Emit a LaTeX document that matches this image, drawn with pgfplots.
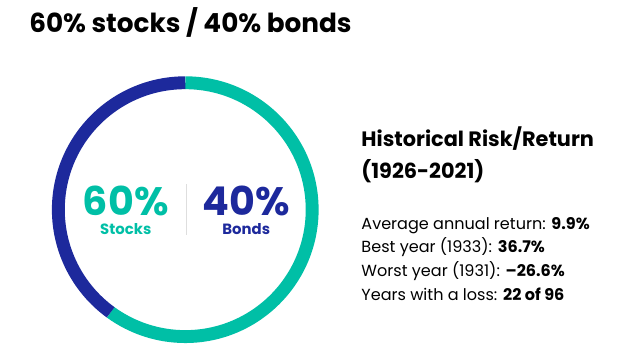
\documentclass[border=0pt]{standalone}
\usepackage{fontspec}
\setmainfont{Poppins}
\usepackage{pgfplots}
\usepackage{pgfplotstable}
\pgfplotsset{compat=1.18}
\definecolor{vteal}{RGB}{0,191,166}
\definecolor{vblue}{RGB}{29,41,156}
\definecolor{sepgray}{RGB}{222,222,222}
\pgfplotstableread{
label value
Stocks 60
Bonds 40
}\mixtable
\begin{document}
\pgfplotstablegetelem{0}{value}\of\mixtable \edef\stocks{\pgfplotsretval}
\pgfplotstablegetelem{1}{value}\of\mixtable \edef\bonds{\pgfplotsretval}
\begin{tikzpicture}[x=1pt,y=1pt]
\useasboundingbox (0,0) rectangle (624,362);
\begin{axis}[at={(47pt,16pt)}, anchor=south west, scale only axis,
  width=269pt, height=269pt, xmin=-1, xmax=1, ymin=-1, ymax=1,
  hide axis, clip=false]
\draw[vteal, line width=13pt] (axis cs:0,0.952) arc[start angle=90, end angle={90-3.6*\stocks}, radius=128pt];
\draw[vblue, line width=13pt] (axis cs:0,0.952) arc[start angle=90, end angle={90+3.6*\bonds}, radius=128pt];
\end{axis}
\node[anchor=base west, inner sep=0, font=\bfseries\fontsize{26.5}{30}\selectfont] at (24,329) {60\% stocks / 40\% bonds};
\node[anchor=base, inner sep=0, text height=28pt, text depth=0pt, text=vteal, font=\bfseries\fontsize{40}{40}\selectfont] at (121.5,145) {\stocks\%};
\node[anchor=base, inner sep=0, text height=11pt, text depth=0pt, text=vteal, font=\bfseries\fontsize{15}{18}\selectfont] at (121.5,125) {Stocks};
\node[anchor=base, inner sep=0, text height=28pt, text depth=0pt, text=vblue, font=\bfseries\fontsize{40}{40}\selectfont] at (243,145) {\bonds\%};
\node[anchor=base, inner sep=0, text height=11pt, text depth=0pt, text=vblue, font=\bfseries\fontsize{15}{18}\selectfont] at (243,125) {Bonds};
\draw[sepgray, line width=1pt] (183,176) -- (183,125);
\node[anchor=base west, inner sep=0, font=\bfseries\fontsize{21}{25}\selectfont] at (359,214) {Historical Risk/Return};
\node[anchor=base west, inner sep=0, font=\bfseries\fontsize{21}{25}\selectfont] at (359,182) {(1926-2021)};
\node[anchor=base west, inner sep=0, font=\fontsize{16.2}{18}\selectfont] at (359,131) {Average annual return: \textbf{9.9\%}};
\node[anchor=base west, inner sep=0, font=\fontsize{16.2}{18}\selectfont] at (359,107) {Best year (1933): \textbf{36.7\%}};
\node[anchor=base west, inner sep=0, font=\fontsize{16.2}{18}\selectfont] at (359,83) {Worst year (1931): \textbf{--26.6\%}};
\node[anchor=base west, inner sep=0, font=\fontsize{16.2}{18}\selectfont] at (359,59) {Years with a loss: \textbf{22 of 96}};
\end{tikzpicture}
\end{document}
